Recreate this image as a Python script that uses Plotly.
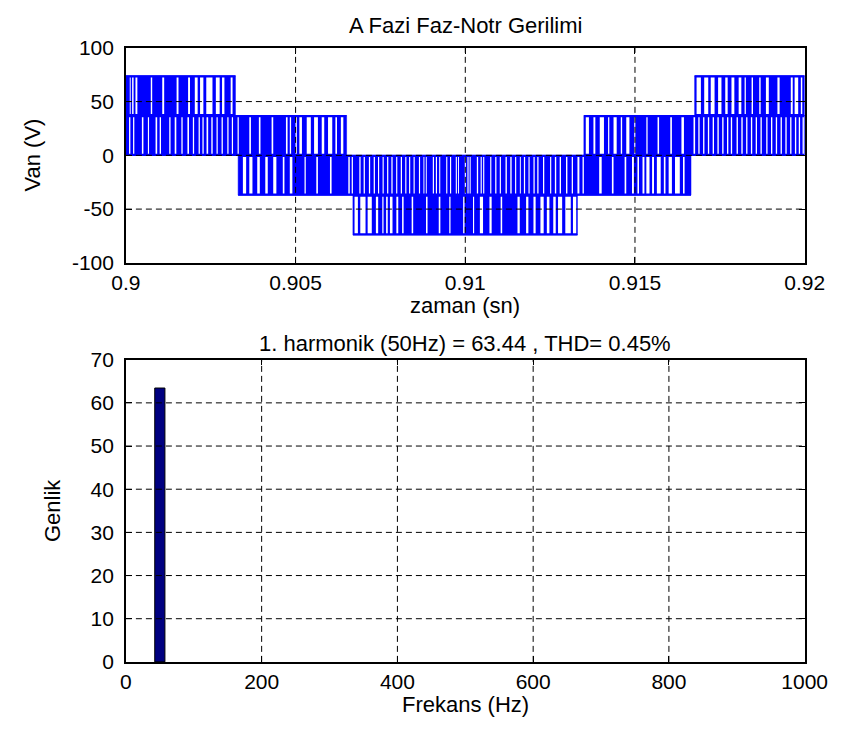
import plotly.graph_objects as go

# ---------------- data ----------------
T0 = 0.9  # start time (s); block times below are ms after T0

# switching blocks (ms after T0) for each sub-band
band_A_ms = [(0.000,0.113),(0.141,0.183),(0.226,0.282),(0.338,0.733),(0.775,1.071),(1.128,1.494),
             (1.550,1.832),(1.889,2.030),(2.114,2.185),(2.283,2.368),(2.551,2.650),(2.763,2.833),
             (2.903,3.087),(3.143,3.228),
             (16.758,16.815),(16.942,17.040),(17.159,17.232),(17.345,17.449),(17.548,17.660),
             (17.731,17.843),(17.928,18.055),(18.134,18.230),(18.267,18.436),(18.478,18.661),
             (18.703,18.858),(18.943,19.197),(19.262,19.591),(19.648,19.704),(19.809,19.887),
             (19.930,20.000)]

band_B_ms = [(0.000,0.093),(0.132,0.211),(0.248,0.471),(0.516,0.648),(0.682,0.874),(0.922,0.995),
             (1.035,1.277),(1.316,1.438),(1.486,1.635),(1.672,1.813),(1.860,1.973),(2.010,2.142),
             (2.179,2.255),(2.292,2.376),(2.424,2.517),(2.557,2.670),(2.706,2.819),(2.856,2.988),
             (3.025,3.121),(3.157,3.290),(3.326,3.636),(3.684,3.918),(3.966,4.293),(4.341,4.716),
             (4.764,4.829),(4.868,4.998),(5.037,5.111),(5.187,5.328),(5.449,5.545),(5.658,5.770),
             (5.844,5.956),(6.080,6.173),(6.221,6.334),(6.407,6.503),
             (13.494,13.550),(13.643,13.776),(13.832,13.962),(14.086,14.207),(14.244,14.368),
             (14.461,14.582),(14.622,14.743),(14.836,14.977),(15.011,15.335),(15.372,15.665),
             (15.710,16.040),(16.088,16.369),(16.443,16.725),(16.772,16.866),(16.905,17.007),
             (17.046,17.148),(17.187,17.289),(17.328,17.429),(17.469,17.570),(17.610,17.711),
             (17.751,17.824),(17.863,17.993),(18.033,18.134),(18.174,18.275),(18.314,18.416),
             (18.455,18.557),(18.596,18.698),(18.737,18.867),(18.906,19.008),(19.047,19.149),
             (19.188,19.290),(19.329,19.431),(19.470,19.572),(19.611,19.713),(19.752,19.826),
             (19.865,19.938),(19.977,20.000)]

band_C_ms = [(3.307,3.447),(3.543,3.636),(3.729,3.870),(3.946,4.107),(4.180,4.341),(4.434,4.623),
             (4.671,4.829),(4.905,5.263),(5.300,5.610),(5.658,6.013),(6.061,6.554),(6.596,6.653),
             (6.689,6.878),(6.915,7.005),(7.042,7.160),(7.197,7.301),(7.338,7.428),(7.462,7.563),
             (7.597,7.696),(7.732,7.822),(7.859,7.963),(7.997,8.099),(8.135,8.231),(8.265,8.344),
             (8.378,8.476),(8.510,8.634),(8.668,8.767),(8.795,8.837),(8.865,9.043),(9.077,9.133),
             (9.167,9.232),(9.263,9.438),(9.471,9.550),(9.584,9.720),(9.753,9.787),(9.815,9.985),
             (10.018,10.063),(10.097,10.128),(10.159,10.340),(10.379,10.452),(10.486,10.526),
             (10.560,10.734),(10.768,10.881),(10.918,11.016),(11.050,11.185),(11.225,11.326),
             (11.366,11.467),(11.501,11.608),(11.636,11.727),(11.763,11.862),(11.896,12.009),
             (12.045,12.121),(12.158,12.290),(12.327,12.499),(12.533,12.640),(12.680,12.781),
             (12.820,12.967),(13.009,13.136),(13.173,13.305),(13.362,13.455),(13.494,13.945),
             (14.019,14.320),(14.368,14.695),(14.743,14.912),(14.968,15.073),(15.118,15.222),
             (15.278,15.335),(15.428,15.504),(15.560,15.645),(15.758,15.851),(15.899,15.992),
             (16.088,16.180),(16.321,16.415),(16.462,16.651)]

band_D_ms = [(6.689,6.737),(6.836,6.906),(7.061,7.123),(7.245,7.366),(7.433,7.555),(7.591,7.667),
             (7.715,7.780),(7.856,7.969),(8.025,8.138),(8.183,8.420),(8.465,8.843),(8.888,9.218),
             (9.266,9.528),(9.565,9.937),(9.979,10.227),(10.261,10.430),(10.523,10.712),
             (10.777,11.042),(11.087,11.538),(11.605,11.792),(11.859,12.009),(12.073,12.214),
             (12.310,12.403),(12.479,12.592),(12.665,12.733),(12.854,12.947),(13.108,13.173),
             (13.269,13.305)]

# voltage levels of the waveform (V), bottom to top
levels = [-74, -37, 0, 37, 74]

# spectrum
harm_freq = [50]
harm_amp = [63.44]

top_xticks = [0.9, 0.905, 0.91, 0.915, 0.92]
top_xtext = ["0.9", "0.905", "0.91", "0.915", "0.92"]
top_yticks = [-100, -50, 0, 50, 100]
top_ytext = ["-100", "-50", "0", "50", "100"]
bot_xticks = [0, 200, 400, 600, 800, 1000]
bot_yticks = [0, 10, 20, 30, 40, 50, 60, 70]

title_top = "A Fazi Faz-Notr Gerilimi"
title_bot = "1. harmonik (50Hz) = 63.44 , THD= 0.45%"

# ---------------- figure ----------------
BLUE = "#0000FF"
fig = go.Figure()

rows = [band_D_ms, band_C_ms, band_B_ms, band_A_ms]  # bottom -> top, between consecutive levels

def clusters_of(blocks, max_gap=0.5):
    out, cur = [], [blocks[0]]
    for blk in blocks[1:]:
        if blk[0] - cur[-1][1] > max_gap:
            out.append(cur)
            cur = [blk]
        else:
            cur.append(blk)
    out.append(cur)
    return out

def ts(ms):
    return T0 + ms / 1000.0

# 1) solid switching envelope of every cluster
for r, blocks in enumerate(rows):
    lo, hi = levels[r], levels[r + 1]
    for cl in clusters_of(blocks):
        a, b = ts(cl[0][0]), ts(cl[-1][1])
        fig.add_trace(go.Scatter(x=[a, b, b, a, a], y=[lo, lo, hi, hi, lo], mode="lines",
                                 fill="toself", fillcolor=BLUE, line=dict(color=BLUE, width=0.5),
                                 xaxis="x", yaxis="y", showlegend=False, hoverinfo="skip"))

# 2) white dwell intervals between switching blocks
for r, blocks in enumerate(rows):
    lo, hi = levels[r], levels[r + 1]
    gx, gy = [], []
    for cl in clusters_of(blocks):
        for (a0, b0), (a1, b1) in zip(cl[:-1], cl[1:]):
            g0, g1 = ts(b0), ts(a1)
            gx += [g0, g1, g1, g0, g0, None]
            gy += [lo + 1.5, lo + 1.5, hi - 1.5, hi - 1.5, lo + 1.5, None]
    if gx:
        fig.add_trace(go.Scatter(x=gx, y=gy, mode="none", fill="toself", fillcolor="white",
                                 xaxis="x", yaxis="y", showlegend=False, hoverinfo="skip"))

# 3) level lines
lx, ly = [], []
for r, blocks in enumerate(rows):
    lo, hi = levels[r], levels[r + 1]
    for cl in clusters_of(blocks):
        for lev in (lo, hi):
            lx += [ts(cl[0][0]), ts(cl[-1][1]), None]
            ly += [lev, lev, None]
fig.add_trace(go.Scatter(x=lx, y=ly, mode="lines", line=dict(color=BLUE, width=1.2),
                         xaxis="x", yaxis="y", showlegend=False, hoverinfo="skip"))

fig.add_trace(go.Bar(x=harm_freq, y=harm_amp, width=[15] * len(harm_freq),
                     marker=dict(color="#000080", line=dict(color="black", width=1)),
                     xaxis="x2", yaxis="y2", showlegend=False))

W, H = 864, 731
x_dom = [116 / W, 826 / W]
top_dom = [1 - 259 / H, 1 - 37 / H]
bot_dom = [1 - 671 / H, 1 - 359 / H]

FONT = "Liberation Sans, Arial, Helvetica, sans-serif"
axcommon = dict(showline=True, linecolor="black", linewidth=1.5, mirror="allticks",
                ticks="inside", ticklen=6, tickcolor="black", showgrid=False, zeroline=False,
                tickfont=dict(family=FONT, size=21, color="black"))

fig.update_layout(
    width=W, height=H, margin=dict(l=0, r=0, t=0, b=0), autosize=False,
    paper_bgcolor="white", plot_bgcolor="white", barmode="overlay",
    xaxis=dict(domain=x_dom, range=[0.9, 0.92], tickvals=top_xticks, ticktext=top_xtext,
               anchor="y", **axcommon),
    yaxis=dict(domain=top_dom, range=[-100, 100], tickvals=top_yticks, ticktext=top_ytext,
               anchor="x", ticklabelstandoff=6, **axcommon),
    xaxis2=dict(domain=x_dom, range=[0, 1000], tickvals=bot_xticks, anchor="y2", **axcommon),
    yaxis2=dict(domain=bot_dom, range=[0, 70], tickvals=bot_yticks, anchor="x2",
                ticklabelstandoff=6, **axcommon),
)

# dashed grid drawn above traces (MATLAB style)
shapes = []
grid_line = dict(color="black", width=1, dash="6px,4px")
for v in top_xticks[1:-1]:
    shapes.append(dict(type="line", xref="x", yref="y domain", x0=v, x1=v, y0=0, y1=1, line=grid_line, layer="above"))
for v in top_yticks[1:-1]:
    shapes.append(dict(type="line", xref="x domain", yref="y", x0=0, x1=1, y0=v, y1=v, line=grid_line, layer="above"))
for v in bot_xticks[1:-1]:
    shapes.append(dict(type="line", xref="x2", yref="y2 domain", x0=v, x1=v, y0=0, y1=1, line=grid_line, layer="above"))
for v in bot_yticks[1:-1]:
    shapes.append(dict(type="line", xref="x2 domain", yref="y2", x0=0, x1=1, y0=v, y1=v, line=grid_line, layer="above"))
fig.update_layout(shapes=shapes)

xc = (x_dom[0] + x_dom[1]) / 2
tf = dict(family=FONT, size=22, color="black")
common = dict(xref="paper", yref="paper", showarrow=False, font=tf, xanchor="center", yanchor="middle")
ann = [
    dict(text=title_top, x=xc, y=1 - 14 / H, **common),
    dict(text="zaman (sn)", x=xc, y=1 - 303 / H, **common),
    dict(text="Van (V)", x=18 / W, y=(top_dom[0] + top_dom[1]) / 2, textangle=-90, **common),
    dict(text=title_bot, x=xc, y=1 - 342 / H, **common),
    dict(text="Frekans (Hz)", x=xc, y=1 - 715 / H, **common),
    dict(text="Genlik", x=40 / W, y=(bot_dom[0] + bot_dom[1]) / 2, textangle=-90, **common),
]
fig.update_layout(annotations=ann)

fig.write_html("out.html", config={"displayModeBar": False})
